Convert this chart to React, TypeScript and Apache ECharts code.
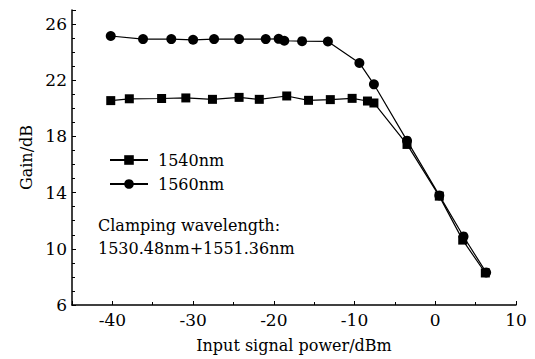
import React, { useEffect, useRef } from "react";
import * as echarts from "echarts";

const seriesNames = ["1540nm", "1560nm"];

const x1540 = [-40.2, -37.9, -33.9, -30.9, -27.6, -24.3, -21.8, -18.4, -15.7, -13.0, -10.3, -8.4, -7.6, -3.5, 0.5, 3.4, 6.2];
const y1540 = [20.55, 20.68, 20.7, 20.74, 20.64, 20.78, 20.64, 20.88, 20.57, 20.62, 20.71, 20.52, 20.38, 17.43, 13.75, 10.62, 8.28];

const x1560 = [-40.2, -36.2, -32.7, -30.0, -27.4, -24.3, -21.0, -19.4, -18.7, -16.5, -13.3, -9.4, -7.6, -3.5, 0.5, 3.5, 6.3];
const y1560 = [25.15, 24.93, 24.93, 24.88, 24.93, 24.93, 24.93, 24.95, 24.81, 24.78, 24.76, 23.23, 21.71, 17.7, 13.8, 10.88, 8.32];

const xTickLabels = [-40, -30, -20, -10, 0, 10];
const yTickLabels = [6, 10, 14, 18, 22, 26];

const annotationLines = ["Clamping wavelength:", "1530.48nm+1551.36nm"];

const FONT = "DejaVu Serif";

export default function App() {
  const ref = useRef<HTMLDivElement>(null);
  useEffect(() => {
    if (!ref.current) return;
    const chart = echarts.init(ref.current, undefined, { renderer: "svg" });
    const zip = (xs: number[], ys: number[]) => xs.map((x, i) => [x, ys[i]]);
    chart.setOption({
      animation: false,
      backgroundColor: "#ffffff",
      textStyle: { fontFamily: FONT, color: "#000" },
      grid: { left: 72, right: 19, top: 10, bottom: 54 },
      legend: {
        orient: "vertical",
        left: 104,
        top: 145,
        itemWidth: 38,
        itemHeight: 12,
        itemGap: 4,
        textStyle: { fontFamily: FONT, fontSize: 16, color: "#000", lineHeight: 20, padding: [0, 0, 0, 5] },
        data: seriesNames,
      },
      xAxis: {
        type: "value",
        min: -45,
        max: 10,
        splitNumber: 5,
        name: "Input signal power/dBm",
        nameLocation: "middle",
        nameGap: 32,
        nameTextStyle: { fontFamily: FONT, fontSize: 16, color: "#000" },
        axisLine: { onZero: false, lineStyle: { color: "#000", width: 1.5 } },
        axisTick: { inside: true, length: 4, lineStyle: { color: "#000" } },
        minorTick: { show: true, splitNumber: 2, length: 3, lineStyle: { color: "#000" } },
        splitLine: { show: false },
        axisLabel: {
          fontFamily: FONT,
          fontSize: 17,
          color: "#000",
          margin: 6,
          formatter: (v: number) => (xTickLabels.includes(v) ? String(v) : ""),
        },
      },
      yAxis: {
        type: "value",
        min: 6,
        max: 27,
        interval: 4,
        name: "Gain/dB",
        nameLocation: "middle",
        nameGap: 37,
        nameTextStyle: { fontFamily: FONT, fontSize: 16, color: "#000" },
        axisLine: { show: true, onZero: false, lineStyle: { color: "#000", width: 1.5 } },
        axisTick: { inside: true, length: 4, lineStyle: { color: "#000" } },
        minorTick: { show: true, splitNumber: 4, length: 3, lineStyle: { color: "#000" } },
        splitLine: { show: false },
        axisLabel: {
          fontFamily: FONT,
          fontSize: 17,
          color: "#000",
          margin: 5,
          showMaxLabel: false,
          formatter: (v: number) => (yTickLabels.includes(v) ? String(v) : ""),
        },
      },
      graphic: annotationLines.map((t, i) => ({
        type: "text",
        left: 98,
        top: 217 + i * 23,
        style: { text: t, fontFamily: FONT, fontSize: 16, fill: "#000" },
      })),
      series: [
        {
          name: seriesNames[0],
          type: "line",
          data: zip(x1540, y1540),
          symbol: "rect",
          symbolSize: 9,
          itemStyle: { color: "#000" },
          lineStyle: { color: "#000", width: 1.2 },
        },
        {
          name: seriesNames[1],
          type: "line",
          data: zip(x1560, y1560),
          symbol: "circle",
          symbolSize: 10,
          itemStyle: { color: "#000" },
          lineStyle: { color: "#000", width: 1.2 },
        },
      ],
    });
    return () => chart.dispose();
  }, []);
  return (
    <div
      ref={ref}
      style={{ position: "fixed", left: 0, top: 0, width: 535, height: 359, background: "#fff" }}
    />
  );
}
